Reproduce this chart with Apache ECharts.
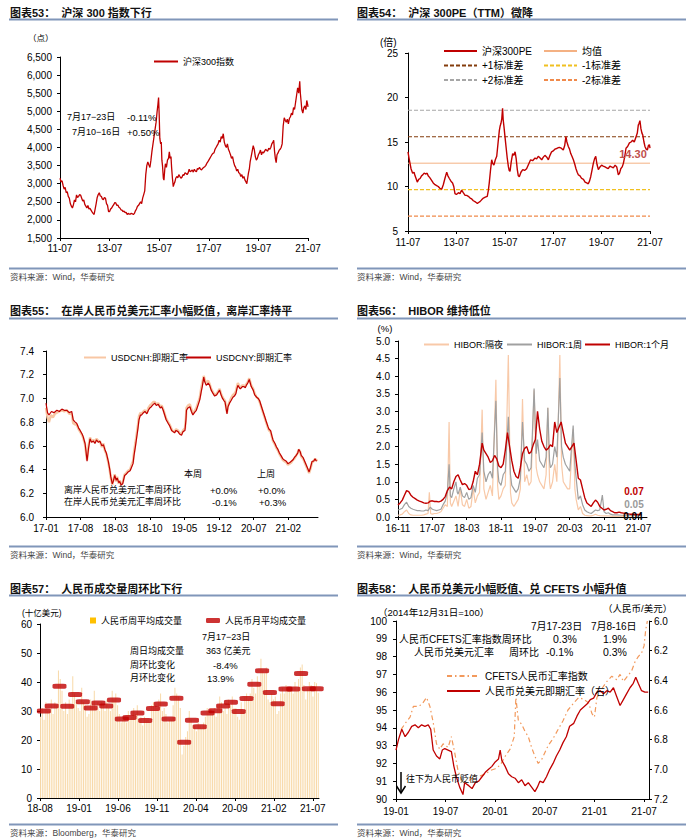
<!DOCTYPE html>
<html><head><meta charset="utf-8">
<script src="https://cdn.jsdelivr.net/npm/echarts@6/dist/echarts.min.js"></script>
<style>html,body{margin:0;padding:0;background:#fff}#c{width:692px;height:840px}</style>
</head><body><div id="c"></div>
<script>
// ---------------- DATA ----------------
// Chart 53: CSI300 index, x = months since 2011-07
const csi300 = [[0,3150],[0.5,3050],[1,3080],[1.5,2950],[2,2850],[2.5,2900],[3,2750],[3.5,2780],[4,2650],[4.5,2600],[5,2450],[5.5,2380],[6,2330],[6.5,2420],[7,2550],[7.5,2500],[8,2690],[8.5,2620],[9,2650],[9.5,2700],[10,2680],[10.5,2600],[11,2520],[11.5,2550],[12,2430],[12.5,2380],[13,2330],[13.5,2400],[14,2300],[14.5,2320],[15,2270],[15.5,2220],[16,2180],[16.5,2150],[17,2300],[17.5,2450],[18,2620],[18.5,2700],[19,2750],[19.5,2660],[20,2650],[20.5,2580],[21,2560],[21.5,2620],[22,2600],[22.5,2450],[23,2400],[23.5,2230],[24,2230],[24.5,2300],[25,2330],[25.5,2380],[26,2420],[26.5,2480],[27,2470],[27.5,2400],[28,2410],[28.5,2350],[29,2330],[29.5,2280],[30,2270],[30.5,2230],[31,2240],[31.5,2200],[32,2210],[32.5,2150],[33,2180],[33.5,2160],[34,2160],[34.5,2180],[35,2170],[35.5,2150],[36,2180],[36.5,2250],[37,2300],[37.5,2380],[38,2400],[38.5,2450],[39,2500],[39.5,2450],[40,2600],[40.5,2700],[41,2800],[41.5,3250],[42,3500],[42.5,3600],[43,3520],[43.5,3450],[44,3650],[44.5,3900],[45,4100],[45.5,4300],[46,4500],[46.5,4700],[47,5000],[47.4,5200],[47.7,5380],[48,4900],[48.3,4250],[48.7,4100],[49,4150],[49.3,3650],[49.6,3500],[50,3150],[50.3,3100],[50.7,3400],[51,3550],[51.5,3450],[52,3650],[52.5,3700],[52.9,3880],[53.3,3700],[53.7,3750],[54,3450],[54.4,3150],[54.8,2920],[55.2,3000],[55.6,3050],[56,3150],[56.5,3200],[57,3160],[57.5,3250],[58,3200],[58.5,3150],[59,3180],[59.5,3250],[60,3230],[60.5,3300],[61,3280],[61.5,3250],[62,3300],[62.5,3400],[63,3330],[63.5,3350],[64,3380],[64.5,3320],[65,3400],[65.5,3350],[66,3330],[66.5,3420],[67,3400],[67.5,3450],[68,3400],[68.5,3380],[69,3420],[69.5,3450],[70,3470],[70.5,3500],[71,3560],[71.5,3600],[72,3650],[72.5,3700],[73,3750],[73.5,3800],[74,3840],[74.5,3850],[75,3950],[75.5,4000],[76,4050],[76.5,4100],[77,4200],[77.5,4150],[78,4300],[78.5,4250],[79,4380],[79.5,4150],[80,4050],[80.5,4000],[81,4100],[81.5,3950],[82,3880],[82.5,3800],[83,3700],[83.5,3750],[84,3600],[84.5,3500],[85,3450],[85.5,3350],[86,3400],[86.5,3300],[87,3280],[87.5,3200],[88,3250],[88.5,3150],[89,3200],[89.5,3100],[90,3050],[90.4,3000],[90.8,3150],[91.2,3300],[91.6,3400],[92,3600],[92.5,3750],[93,3900],[93.5,4050],[94,3950],[94.5,3750],[95,3650],[95.5,3700],[96,3800],[96.5,3850],[97,3930],[97.5,3800],[98,3880],[98.5,3850],[99,3900],[99.5,3950],[100,3920],[100.5,3900],[101,3980],[101.5,3950],[102,4000],[102.5,4100],[103,4150],[103.4,4200],[103.8,3900],[104.2,3700],[104.6,3580],[105,3800],[105.5,3850],[106,3920],[106.5,3950],[107,4000],[107.5,4100],[108,4600],[108.5,4820],[109,4750],[109.5,4700],[110,4780],[110.5,4650],[111,4800],[111.5,4850],[112,4950],[112.5,4900],[113,5100],[113.5,5050],[114,5250],[114.5,5450],[115,5650],[115.5,5500],[116,5830],[116.3,5500],[116.7,5250],[117,5050],[117.5,4950],[118,5100],[118.5,5150],[119,5050],[119.4,5300],[119.8,5200],[120,5120]];
const csiXLabels = ['11-07','13-07','15-07','17-07','19-07','21-07'];

// Chart 54: CSI300 PE (TTM)
const pe300 = [[0,13.9],[0.5,13.2],[1,12.6],[1.5,12.0],[2.3,11.5],[3,11.6],[3.5,11.2],[4,10.9],[4.6,10.5],[5.3,10.8],[6,10.9],[6.7,11.2],[7.3,11.3],[8,11.5],[8.9,11.4],[9.5,11.5],[10,11.2],[10.8,11.0],[11.7,10.7],[12.5,10.4],[13.4,10.2],[14.2,10.1],[15,10.0],[15.8,9.8],[16.7,9.7],[17.5,10.2],[18.3,10.9],[18.8,11.3],[19.2,11.6],[19.8,11.2],[20.5,10.9],[21.3,10.6],[22.1,10.4],[22.7,10.0],[23.3,9.2],[24,9.1],[25,9.3],[25.8,9.2],[26.6,9.6],[27.4,9.3],[28.3,9.0],[29.1,9.0],[29.9,8.9],[30.8,8.7],[31.6,8.6],[32.4,8.4],[33.2,8.3],[33.8,8.2],[34.4,8.1],[35,8.2],[35.7,8.3],[36.5,8.5],[37.4,8.7],[38.3,8.8],[39.3,8.9],[39.8,9.5],[40.3,10.4],[40.9,11.8],[41.5,13.0],[42,12.6],[42.6,12.4],[43.3,13.0],[44,13.4],[44.7,15.0],[45.3,16.3],[45.7,16.8],[46.1,17.1],[46.5,17.6],[46.9,18.8],[47.2,17.5],[47.6,16.7],[48,15.8],[48.6,14.5],[49.2,13.2],[49.8,12.2],[50.2,11.8],[50.6,11.7],[51.2,12.8],[51.9,13.7],[52.5,13.5],[53.1,13.9],[53.6,13.2],[54.2,11.9],[54.7,11.2],[55.2,11.1],[56,11.6],[56.9,11.9],[57.8,11.8],[58.8,12.0],[59.8,12.5],[60.8,13.0],[61.8,12.9],[63,13.2],[63.8,13.1],[64.6,13.4],[65.5,13.2],[66.3,13.0],[67.1,13.3],[67.9,13.5],[68.8,13.3],[69.6,13.0],[70.4,13.5],[71.2,13.9],[72,14.0],[72.9,14.2],[74,14.3],[75,14.4],[76,14.3],[77,14.1],[77.7,14.6],[78.3,15.6],[78.8,15.0],[79.5,14.5],[80.1,14.2],[80.7,13.7],[81.3,13.4],[82,13.0],[82.7,12.5],[83.3,12.0],[83.9,11.6],[84.5,11.3],[85.3,11.2],[86.1,10.9],[87,10.8],[87.8,10.5],[88.6,10.4],[89.4,10.3],[90,10.6],[90.6,11.1],[91.3,11.9],[91.9,12.6],[92.5,13.1],[93.1,13.4],[93.7,12.5],[94.4,11.9],[95.2,12.2],[96,12.4],[96.8,12.3],[97.7,12.2],[98.5,12.1],[99.3,12.0],[100.1,12.3],[100.9,12.2],[101.8,12.1],[102.7,12.4],[103.5,12.2],[104.3,11.3],[104.9,11.5],[105.5,12.0],[106.2,12.2],[106.8,12.6],[107.5,13.4],[108.1,14.3],[108.9,14.5],[109.8,14.9],[110.6,15.0],[111.4,15.2],[112.2,15.0],[113.1,15.6],[113.7,16.0],[114.2,16.9],[114.6,17.1],[115,17.4],[115.5,16.5],[116,16.0],[116.4,15.8],[117,15.0],[117.5,14.5],[118.1,14.2],[118.7,14.1],[119.2,14.6],[119.7,14.7],[120,14.3]];
const peBandNames = ['均值','+1标准差','-1标准差','+2标准差','-2标准差'];
const peBandValues = [12.62, 15.59, 9.65, 18.56, 6.68];
const peLast = '14.30';

// Chart 55: USDCNH / USDCNY, x = months since 2017-01
const usdcnh = [[0,6.92],[0.3,6.84],[0.6,6.80],[1,6.86],[1.4,6.84],[1.8,6.87],[2.2,6.88],[2.7,6.89],[3.2,6.90],[3.7,6.89],[4.2,6.90],[4.7,6.87],[5.2,6.87],[5.5,6.79],[5.9,6.78],[6.2,6.78],[6.6,6.74],[6.9,6.72],[7.3,6.69],[7.5,6.67],[7.9,6.61],[8.1,6.54],[8.3,6.48],[8.6,6.60],[8.9,6.67],[9.2,6.64],[9.6,6.65],[9.9,6.63],[10.2,6.66],[10.6,6.64],[10.9,6.64],[11.3,6.59],[11.6,6.62],[11.9,6.56],[12.2,6.53],[12.6,6.46],[12.9,6.39],[13.1,6.33],[13.4,6.27],[13.6,6.31],[13.9,6.36],[14.2,6.30],[14.4,6.34],[14.7,6.28],[14.9,6.31],[15.2,6.27],[15.5,6.29],[15.9,6.36],[16.2,6.37],[16.6,6.39],[17,6.40],[17.3,6.44],[17.6,6.47],[17.8,6.55],[18.1,6.63],[18.3,6.69],[18.6,6.78],[18.8,6.85],[19.1,6.88],[19.3,6.87],[19.7,6.89],[20,6.90],[20.4,6.88],[20.7,6.92],[21,6.94],[21.3,6.95],[21.7,6.97],[22,6.97],[22.3,6.95],[22.7,6.96],[23.1,6.93],[23.4,6.94],[23.7,6.91],[24,6.87],[24.3,6.83],[24.7,6.80],[25,6.78],[25.4,6.74],[25.7,6.72],[26,6.72],[26.3,6.74],[26.7,6.73],[27,6.71],[27.4,6.70],[27.7,6.73],[28.1,6.75],[28.3,6.84],[28.4,6.92],[28.7,6.94],[29.1,6.95],[29.4,6.91],[29.7,6.87],[30,6.89],[30.4,6.92],[30.8,6.97],[31.1,7.01],[31.4,7.09],[31.6,7.13],[31.9,7.19],[32.1,7.16],[32.4,7.13],[32.8,7.15],[33.1,7.12],[33.4,7.08],[33.8,7.05],[34.1,7.03],[34.5,7.04],[34.8,7.06],[35.1,7.08],[35.4,7.04],[35.7,7.01],[36,6.99],[36.2,6.98],[36.4,6.93],[36.6,6.88],[36.8,6.94],[37.1,6.97],[37.4,7.00],[37.8,7.03],[38.1,7.04],[38.4,7.06],[38.6,7.10],[38.8,7.13],[39.1,7.10],[39.3,7.09],[39.7,7.11],[40,7.11],[40.3,7.10],[40.5,7.12],[40.8,7.14],[41.1,7.17],[41.3,7.14],[41.5,7.11],[41.9,7.08],[42.2,7.04],[42.6,7.01],[42.9,7.00],[43.2,6.97],[43.5,6.93],[43.8,6.89],[44.2,6.84],[44.5,6.80],[44.9,6.75],[45.1,6.73],[45.4,6.72],[45.7,6.67],[45.9,6.64],[46.3,6.61],[46.6,6.58],[46.9,6.56],[47.2,6.53],[47.5,6.51],[47.9,6.48],[48.2,6.47],[48.6,6.46],[48.9,6.44],[49.3,6.45],[49.6,6.46],[49.9,6.48],[50.2,6.49],[50.6,6.52],[50.9,6.54],[51.1,6.57],[51.4,6.55],[51.6,6.51],[52,6.49],[52.3,6.46],[52.6,6.43],[53,6.39],[53.2,6.37],[53.5,6.41],[53.8,6.46],[54.1,6.47],[54.4,6.49],[54.7,6.48],[54.8,6.47]];
const usdcny = [[0,6.96],[0.3,6.88],[0.6,6.86],[1.1,6.89],[1.6,6.88],[2.2,6.90],[2.7,6.89],[3.2,6.91],[3.7,6.90],[4.2,6.90],[4.7,6.88],[5.2,6.89],[5.5,6.82],[5.9,6.80],[6.2,6.79],[6.6,6.75],[6.9,6.73],[7.3,6.70],[7.5,6.68],[7.9,6.62],[8.1,6.55],[8.3,6.47],[8.6,6.58],[8.9,6.66],[9.2,6.63],[9.6,6.64],[9.9,6.62],[10.2,6.65],[10.6,6.63],[10.9,6.64],[11.3,6.60],[11.6,6.61],[11.9,6.57],[12.2,6.54],[12.6,6.47],[12.9,6.40],[13.1,6.34],[13.4,6.28],[13.6,6.30],[13.9,6.35],[14.2,6.31],[14.4,6.33],[14.7,6.29],[14.9,6.30],[15.2,6.27],[15.5,6.28],[15.9,6.35],[16.2,6.36],[16.6,6.38],[17,6.39],[17.3,6.42],[17.6,6.45],[17.8,6.52],[18.1,6.60],[18.3,6.66],[18.6,6.75],[18.8,6.82],[19.1,6.86],[19.3,6.86],[19.7,6.88],[20,6.89],[20.4,6.87],[20.7,6.90],[21,6.92],[21.3,6.93],[21.7,6.95],[22,6.96],[22.3,6.94],[22.7,6.95],[23.1,6.92],[23.4,6.93],[23.7,6.90],[24,6.86],[24.3,6.82],[24.7,6.79],[25,6.77],[25.4,6.73],[25.7,6.72],[26,6.71],[26.3,6.73],[26.7,6.72],[27,6.70],[27.4,6.69],[27.7,6.72],[28.1,6.73],[28.3,6.82],[28.4,6.90],[28.7,6.92],[29.1,6.93],[29.4,6.89],[29.7,6.86],[30,6.88],[30.4,6.90],[30.8,6.95],[31.1,6.99],[31.4,7.06],[31.6,7.10],[31.9,7.18],[32.1,7.14],[32.4,7.11],[32.8,7.13],[33.1,7.11],[33.4,7.07],[33.8,7.04],[34.1,7.02],[34.5,7.03],[34.8,7.05],[35.1,7.07],[35.4,7.03],[35.7,7.00],[36,6.98],[36.2,6.97],[36.4,6.92],[36.6,6.87],[36.8,6.93],[37.1,6.96],[37.4,6.98],[37.8,7.01],[38.1,7.02],[38.4,7.04],[38.6,7.08],[38.8,7.11],[39.1,7.09],[39.3,7.08],[39.7,7.10],[40,7.10],[40.3,7.09],[40.5,7.11],[40.8,7.13],[41.1,7.16],[41.3,7.13],[41.5,7.10],[41.9,7.07],[42.2,7.03],[42.6,7.01],[42.9,7.00],[43.2,6.98],[43.5,6.94],[43.8,6.90],[44.2,6.85],[44.5,6.81],[44.9,6.76],[45.1,6.74],[45.4,6.73],[45.7,6.68],[45.9,6.65],[46.3,6.62],[46.6,6.59],[46.9,6.57],[47.2,6.54],[47.5,6.52],[47.9,6.49],[48.2,6.48],[48.6,6.47],[48.9,6.45],[49.3,6.46],[49.6,6.47],[49.9,6.48],[50.2,6.50],[50.6,6.52],[50.9,6.54],[51.1,6.57],[51.4,6.55],[51.6,6.52],[52,6.50],[52.3,6.47],[52.6,6.44],[53,6.40],[53.2,6.38],[53.5,6.42],[53.8,6.47],[54.1,6.47],[54.4,6.49],[54.7,6.47],[54.8,6.47]];
const fxXLabels = ['17-01','17-08','18-03','18-10','19-05','19-12','20-07','21-02'];

// Chart 56: HIBOR, x = months since 2016-11
const hiborON = [[0,0.05],[0.5,0.06],[1,0.08],[1.5,0.15],[2,0.2],[2.5,0.1],[3,0.06],[3.5,0.05],[4,0.05],[4.5,0.05],[5,0.05],[5.5,0.05],[6,0.06],[6.5,0.08],[7,0.1],[7.3,0.7],[7.6,0.1],[8,0.08],[8.5,0.1],[9,0.1],[9.5,0.12],[10,0.15],[10.5,0.25],[11,0.35],[11.5,0.3],[11.9,2.7],[12.2,0.4],[12.5,0.3],[13,0.45],[13.5,0.6],[14,0.3],[14.5,0.8],[15,0.35],[15.5,0.3],[16,0.5],[16.5,0.25],[17,0.3],[17.5,0.8],[18,0.4],[18.5,0.6],[19,0.7],[19.6,3.05],[20,0.8],[20.5,0.5],[21,0.7],[21.5,0.9],[22,0.6],[22.8,3.9],[23.2,0.9],[23.5,0.5],[24,0.6],[24.5,0.8],[25,0.9],[25.7,4.6],[26.2,0.7],[26.5,0.4],[27,0.3],[27.5,0.4],[28,0.5],[28.5,0.8],[29,3.35],[29.5,1.0],[30,1.2],[30.5,0.9],[31,1.0],[31.7,3.6],[32.2,1.4],[32.5,1.2],[33,1.0],[33.5,0.9],[34,0.8],[34.5,1.2],[34.9,3.1],[35.3,1.0],[35.5,0.8],[36,1.0],[36.5,1.5],[37,1.0],[37.7,4.6],[38.1,1.5],[38.5,1.0],[39,0.9],[39.5,0.8],[40,0.8],[40.8,2.5],[41.2,0.8],[41.5,0.5],[42,0.2],[42.5,0.3],[43,0.1],[43.5,0.05],[44,0.04],[44.5,0.03],[45,0.03],[45.5,0.05],[46,0.08],[46.5,0.05],[47,0.04],[48,0.03],[49,0.03],[50,0.02],[51,0.02],[52,0.02],[53,0.03],[54,0.03],[55,0.04],[56,0.04],[56.7,0.04]];
const hibor1W = [[0,0.2],[0.5,0.22],[1,0.25],[1.5,0.35],[2,0.42],[2.5,0.3],[3,0.25],[3.5,0.22],[4,0.2],[4.5,0.18],[5,0.18],[5.5,0.17],[6,0.17],[6.5,0.2],[7,0.18],[7.5,0.28],[8,0.22],[8.5,0.2],[9,0.18],[9.5,0.2],[10,0.22],[10.5,0.35],[11,0.45],[11.5,0.7],[11.9,1.5],[12.2,0.6],[12.5,0.55],[13,0.8],[13.5,1.0],[13.8,0.7],[14,0.65],[14.5,0.85],[15,0.6],[15.5,0.55],[16,0.7],[16.5,0.5],[17,0.55],[17.5,0.9],[18,0.7],[18.5,1.1],[19,1.2],[19.6,2.4],[20,1.3],[20.5,1.0],[21,1.2],[21.5,1.3],[22,1.1],[22.8,3.3],[23.2,1.4],[23.5,1.0],[24,0.9],[24.5,1.2],[25,1.3],[25.7,2.85],[26.2,1.2],[26.5,0.9],[27,0.8],[27.5,0.7],[28,0.8],[28.5,1.1],[29,2.7],[29.5,1.6],[30,1.5],[30.5,1.3],[31,1.4],[31.7,3.65],[32.2,1.8],[32.5,2.2],[33,1.6],[33.5,1.5],[34,1.4],[34.5,1.7],[34.9,3.1],[35.3,1.6],[35.5,1.4],[36,1.5],[36.5,2.0],[37,1.7],[37.7,3.95],[38.1,2.0],[38.5,1.7],[39,1.5],[39.5,1.4],[40,1.3],[40.8,2.6],[41.2,1.5],[41.5,1.1],[42,0.5],[42.5,0.6],[43,0.35],[43.5,0.2],[44,0.15],[44.5,0.12],[45,0.1],[45.5,0.15],[46,0.2],[46.5,0.18],[47,0.2],[47.6,0.62],[48,0.15],[48.5,0.1],[49,0.12],[49.5,0.08],[50,0.06],[51,0.06],[52,0.05],[53,0.05],[54,0.05],[55,0.05],[56,0.05],[56.7,0.05]];
const hibor1M = [[0,0.34],[0.5,0.4],[1,0.48],[1.5,0.62],[2,0.75],[2.5,0.72],[3,0.62],[3.5,0.56],[4,0.52],[4.5,0.48],[5,0.45],[5.5,0.43],[6,0.4],[6.5,0.39],[7,0.4],[7.5,0.45],[8,0.46],[8.5,0.44],[9,0.44],[9.5,0.43],[10,0.45],[10.5,0.5],[11,0.58],[11.5,0.75],[12,0.85],[12.5,0.8],[13,1.0],[13.5,1.15],[14,1.2],[14.5,1.05],[15,0.92],[15.5,0.95],[16,0.9],[16.5,0.78],[17,0.8],[17.5,1.0],[18,1.3],[18.5,1.2],[19,1.5],[19.6,2.1],[20,1.9],[20.5,1.8],[21,1.7],[21.5,1.55],[22,1.6],[22.5,1.75],[23,1.65],[23.5,1.45],[24,1.4],[24.5,1.5],[25,1.9],[25.5,2.4],[26,2.0],[26.5,1.6],[27,1.3],[27.5,1.15],[28,1.1],[28.5,1.4],[29,1.8],[29.5,1.95],[30,2.0],[30.5,1.8],[31,1.85],[31.5,2.05],[32,2.2],[32.5,3.0],[33,2.5],[33.5,2.15],[34,2.0],[34.5,1.9],[35,1.95],[35.5,2.05],[36,2.0],[36.5,2.7],[37,2.4],[37.5,2.55],[38,2.7],[38.5,2.4],[39,2.1],[39.5,2.0],[40,1.9],[40.5,2.0],[41,2.1],[41.5,1.6],[42,1.1],[42.5,1.05],[43,0.8],[43.5,0.55],[44,0.4],[44.5,0.35],[45,0.3],[45.5,0.4],[46,0.48],[46.5,0.42],[47,0.3],[47.5,0.25],[48,0.2],[48.5,0.22],[49,0.25],[49.5,0.18],[50,0.15],[50.5,0.12],[51,0.12],[51.5,0.14],[52,0.12],[52.5,0.11],[53,0.1],[53.5,0.09],[54,0.08],[54.5,0.08],[55,0.07],[55.5,0.07],[56,0.07],[56.7,0.07]];
const hiborXLabels = ['16-11','17-07','18-03','18-11','19-07','20-03','20-11','21-07'];
const hiborEnd = ['0.07','0.05','0.04'];

// Chart 57: RMB turnover (USD bn). Weekly (Fridays from 2018-08-03) and monthly averages from 2018-08
const weeklyVol = [28,31,27,33,30, 30,34,29,33, 32,44,41,37, 30,33,29,34,32, 42,36,33,31,
 30,38,33,32, 28,29,34,33, 37,31,33,30,33, 32,30,34,31, 30,37,34,36,32, 29,26,27,27, 26,30,27,28, 31,29,32,27,28, 25,28,27,27, 26,32,33,32, 31,34,36,30,31, 29,26,27,27,
 32,38,36,35,31, 15,18,21,23, 30,27,25,25, 23,26,25,24, 26,28,31,30,31, 29,31,28,32, 35,33,30,31,29, 34,32,35,31, 31,28,27,33, 30,35,36,34,36, 41,38,36,42, 40,48,44,43,
 45,34,33,36,34, 35,29,30,36, 38,36,39,37, 37,38,36,40,37, 41,45,46,39, 34,38,40,39, 35,40,39.6,36.3];
const monthlyVol = [30.0,31.7,38.5,31.6,35.7, 33.2,31.0,32.8,31.7,33.8,27.2,27.8,29.3,26.7,30.9,32.4,27.2, 34.4,19.2,26.8,24.6,29.3,30.1,31.7,33.0,29.8,34.3,39.2,43.9, 36.4,32.5,37.6,37.6,42.9,37.7,37.7];
const volXLabels = ['18-08','19-01','19-06','19-11','20-04','20-09','21-02','21-07'];

// Chart 58: CFETS index (left) and USDCNY (right, inverted), x = months since 2019-01
const cfets = [[0.6,93.9],[1.2,94.3],[1.7,94.6],[2.1,95.2],[2.6,95.2],[3.1,95.3],[3.7,95.7],[4.1,95.2],[4.5,94.3],[4.9,93.1],[5.3,92.8],[5.7,93.1],[6.3,92.9],[6.7,93.5],[7.1,92.6],[7.5,91.6],[7.9,91.1],[8.3,90.9],[8.7,91.0],[9,91.1],[9.6,91.3],[10.2,91.3],[10.8,91.4],[11.4,91.6],[12,91.7],[12.6,91.9],[13.2,92.4],[13.8,92.8],[14.3,93.5],[14.5,95.7],[14.8,94.4],[15.2,94.2],[15.6,93.8],[16,93.5],[16.4,92.9],[16.8,92.4],[17.2,92.0],[17.6,92.2],[18,92.6],[18.4,93.0],[19,93.4],[19.6,93.9],[20.2,94.4],[20.8,95.0],[21.5,95.4],[22.1,95.7],[22.7,95.6],[23.3,95.4],[23.7,94.8],[24,94.6],[24.3,95.7],[24.9,96.2],[25.5,96.6],[26.1,96.9],[26.7,96.7],[27.1,97.0],[27.5,96.6],[28,96.9],[28.5,97.2],[28.9,97.7],[29.3,98.0],[29.7,98.2],[30,98.6],[30.2,99.5],[30.4,100.0]];
const usdcny58 = [[0,6.87],[0.3,6.80],[0.7,6.73],[1.1,6.78],[1.5,6.75],[1.9,6.71],[2.3,6.70],[2.7,6.72],[3.1,6.70],[3.5,6.71],[3.9,6.70],[4.2,6.73],[4.5,6.87],[4.9,6.91],[5.3,6.93],[5.6,6.87],[5.9,6.86],[6.3,6.87],[6.7,6.88],[7,6.98],[7.3,7.05],[7.7,7.12],[8.1,7.17],[8.3,7.09],[8.8,7.11],[9.2,7.13],[9.6,7.09],[10,7.08],[10.4,7.05],[10.8,7.02],[11.2,7.00],[11.6,6.98],[12,6.95],[12.4,6.93],[12.6,6.87],[12.8,6.94],[13.2,6.98],[13.6,7.03],[14,7.05],[14.4,7.06],[14.8,7.09],[15.2,7.07],[15.6,7.11],[16,7.09],[16.4,7.12],[16.8,7.15],[17.1,7.12],[17.4,7.08],[17.8,7.09],[18.2,7.05],[18.6,7.00],[19,6.96],[19.4,6.91],[19.8,6.87],[20.2,6.82],[20.6,6.78],[21,6.71],[21.5,6.69],[21.9,6.64],[22.3,6.60],[22.7,6.58],[23.1,6.56],[23.5,6.53],[23.9,6.52],[24.3,6.48],[24.7,6.47],[25.1,6.49],[25.5,6.47],[25.9,6.48],[26.3,6.45],[26.7,6.51],[27.1,6.57],[27.5,6.53],[27.9,6.49],[28.3,6.45],[28.7,6.42],[29,6.38],[29.3,6.42],[29.7,6.47],[30.1,6.48],[30.5,6.48]];
const cfetsXLabels = ['19-01','19-07','20-01','20-07','21-01','21-07'];

// ---------------- CHART ----------------
const FN = "'Liberation Sans', Arial, 'Noto Sans CJK SC', sans-serif";
const RED = '#c00000', BLUE = '#8096b9';
const chart = echarts.init(document.getElementById('c'), null, {renderer: 'svg'});

function labFmt(labels, step) {
  return v => { const i = Math.round(v / step); return (Math.abs(v - i * step) < 1e-6 && labels[i] !== undefined) ? labels[i] : ''; };
}
function ticks(labels, step) { return labels.map((_, i) => i * step); }
function xAx(g, max, labels, step, margin) {
  return {type: 'value', gridIndex: g, min: 0, max: max, interval: step,
    axisLine: {lineStyle: {color: '#000', width: 1}},
    axisTick: {show: true, length: 3, lineStyle: {color: '#000'}, customValues: ticks(labels, step)},
    axisLabel: {color: '#000', fontSize: 10, fontFamily: FN, margin: margin, formatter: labFmt(labels, step), customValues: ticks(labels, step)},
    splitLine: {show: false}};
}
function yAx(g, min, max, step, fmt, margin, extra) {
  return Object.assign({type: 'value', gridIndex: g, min: min, max: max, interval: step,
    axisLine: {show: true, lineStyle: {color: '#000', width: 1}},
    axisTick: {show: true, length: 3, lineStyle: {color: '#000'}},
    axisLabel: {color: '#000', fontSize: 10, fontFamily: FN, margin: margin, formatter: fmt},
    splitLine: {show: false}}, extra || {});
}
const comma = v => String(v).replace(/\B(?=(\d{3})+(?!\d))/g, ',');
const f1 = v => v.toFixed(1);

function T(x, y, text, o) {
  o = o || {};
  return {type: 'text', x: x, y: y, silent: true, z: 100,
    style: {text: text, fill: o.fill || '#000', font: (o.weight || 'normal') + ' ' + (o.size || 9) + 'px ' + FN,
      align: o.align || 'left', verticalAlign: 'middle', textAlign: o.align || 'left', textVerticalAlign: 'middle'}};
}
function L(x1, y1, x2, y2, c, w) {
  return {type: 'line', silent: true, shape: {x1: x1, y1: y1, x2: x2, y2: y2}, style: {stroke: c, lineWidth: w}};
}

const titles = [
  [10, 13, '图表53：  沪深 300 指数下行'], [357, 13, '图表54：  沪深 300PE（TTM）微降'],
  [10, 311, '图表55：  在岸人民币兑美元汇率小幅贬值，离岸汇率持平'], [357, 311, '图表56：  HIBOR 维持低位'],
  [10, 589, '图表57：  人民币成交量周环比下行'], [357, 589, '图表58：  人民币兑美元小幅贬值、兑 CFETS 小幅升值']
];
const g = [];
titles.forEach(t => g.push(T(t[0], t[1], t[2], {weight: 'bold', size: 11, fill: '#111'})));
[[9, 338, 19.5], [357, 686, 19.5], [9, 338, 318.5], [357, 686, 318.5], [9, 338, 595.5], [357, 686, 595.5]].forEach(l => g.push(L(l[0], l[2], l[1], l[2], BLUE, 2)));
[[9, 338, 268.5], [357, 686, 268.5], [9, 338, 546.5], [357, 686, 546.5], [9, 338, 824.5], [357, 686, 824.5]].forEach(l => g.push(L(l[0], l[2], l[1], l[2], BLUE, 2)));
[[10, 277, '资料来源：Wind，华泰研究'], [357, 277, '资料来源：Wind，华泰研究'], [10, 555, '资料来源：Wind，华泰研究'],
 [357, 555, '资料来源：Wind，华泰研究'], [10, 833, '资料来源：Bloomberg，华泰研究'], [357, 833, '资料来源：Wind，华泰研究']]
 .forEach(s => g.push(T(s[0], s[1], s[2], {size: 8.5, fill: '#444'})));
// chart 53 texts
g.push(T(28, 38, '（点）', {size: 8.5}));
g.push(T(67, 117, '7月17−23日', {size: 9})); g.push(T(127, 117, '-0.11%', {size: 9.5}));
g.push(T(72, 132, '7月10−16日', {size: 9})); g.push(T(127, 132, '+0.50%', {size: 9.5}));
// chart 54
g.push(T(380, 42, '(倍)', {size: 10}));
g.push(T(633, 154, peLast, {size: 11, weight: 'bold', fill: '#c0504d', align: 'center'}));
// chart 55
g.push(T(193, 474, '本周', {size: 9, align: 'center'})); g.push(T(266, 474, '上周', {size: 9, align: 'center'}));
g.push(T(64, 490, '离岸人民币兑美元汇率周环比', {size: 9})); g.push(T(210, 490, '+0.0%', {size: 9.5})); g.push(T(258, 490, '+0.0%', {size: 9.5}));
g.push(T(64, 502, '在岸人民币兑美元汇率周环比', {size: 9})); g.push(T(212, 502, '-0.1%', {size: 9.5})); g.push(T(259, 502, '+0.3%', {size: 9.5}));
// chart 56
g.push(T(385, 328, '(%)', {size: 9.5, align: 'center'}));
g.push(T(634, 491, hiborEnd[0], {size: 10, weight: 'bold', fill: RED, align: 'center'}));
g.push(T(634, 504, hiborEnd[1], {size: 10, weight: 'bold', fill: '#9a9a9a', align: 'center'}));
g.push(T(633, 516, hiborEnd[2], {size: 10, weight: 'bold', fill: '#000', align: 'center'}));
// chart 57
g.push(T(22, 613, '(十亿美元)', {size: 8.5}));
g.push(T(202, 637, '7月17−23日', {size: 9}));
g.push(T(130, 651, '周日均成交量', {size: 9})); g.push(T(206, 651, '363 亿美元', {size: 9}));
g.push(T(130, 665, '周环比变化', {size: 9})); g.push(T(213, 665, '-8.4%', {size: 9.5}));
g.push(T(130, 678, '月环比变化', {size: 9})); g.push(T(207, 678, '13.9%', {size: 9.5}));
// chart 58
g.push(T(378, 612, '（2014年12月31日=100）', {size: 9.5}));
g.push(T(603, 608, '（人民币/美元）', {size: 9.5}));
g.push(T(531, 626, '7月17-23日', {size: 10})); g.push(T(591, 626, '7月8-16日', {size: 10}));
g.push(T(399, 639, '人民币CFETS汇率指数周环比', {size: 10})); g.push(T(553, 639, '0.3%', {size: 10.5})); g.push(T(603, 639, '1.9%', {size: 10.5}));
g.push(T(414, 652, '人民币兑美元汇率', {size: 10})); g.push(T(509, 652, '周环比', {size: 10})); g.push(T(546, 652, '-0.1%', {size: 10.5})); g.push(T(603, 652, '0.3%', {size: 10.5}));
g.push(L(401, 772, 401, 792, '#000', 1.5));
g.push({type: 'polyline', silent: true, shape: {points: [[396.5, 786], [401, 793], [405.5, 786]]}, style: {stroke: '#000', lineWidth: 1.5, fill: 'none'}});
g.push(T(406, 779, '往下为人民币贬值', {size: 9}));

const lt = {color: '#000', fontSize: 9, fontFamily: FN};
const lineS = (name, xi, data, color, w, extra) => Object.assign({name: name, type: 'line', xAxisIndex: xi, yAxisIndex: xi, data: data,
  showSymbol: false, symbol: 'none', lineStyle: {color: color, width: w}, itemStyle: {color: color}, animation: false, silent: true}, extra || {});

const series = [];
series.push(lineS('沪深300指数', 0, csi300, RED, 1.3));
const bandStyle = [['#f4b183', 'solid', 1], ['#843c0c', 'dashed', 1.2], ['#f0c020', 'dashed', 1.2], ['#a6a6a6', 'dashed', 1.1], ['#f08a4b', 'dashed', 1.2]];
peBandNames.forEach((n, i) => series.push(lineS(n, 1, [[0, peBandValues[i]], [120, peBandValues[i]]], bandStyle[i][0], bandStyle[i][2],
  {lineStyle: {color: bandStyle[i][0], width: bandStyle[i][2], type: bandStyle[i][1] === 'dashed' ? [4, 2] : 'solid'}})));
series.push(lineS('沪深300PE', 1, pe300, RED, 1.4));
series.push(lineS('USDCNH:即期汇率', 2, usdcnh, '#f8c7a4', 2.4));
series.push(lineS('USDCNY:即期汇率', 2, usdcny, RED, 1.2));
series.push(lineS('HIBOR:隔夜', 3, hiborON, '#f8c9a8', 1.2));
series.push(lineS('HIBOR:1周', 3, hibor1W, '#a0a0a0', 1.2));
series.push(lineS('HIBOR:1个月', 3, hibor1M, RED, 1.4));
series.push({name: '人民币周平均成交量', type: 'bar', xAxisIndex: 4, yAxisIndex: 4, barWidth: 1, animation: false, silent: true,
  itemStyle: {color: '#f8d9a8'}, data: weeklyVol.map((v, j) => [(2 + 7 * j) / 30.44, v])});
series.push({name: '人民币月平均成交量', type: 'scatter', xAxisIndex: 4, yAxisIndex: 4, symbol: 'roundRect', symbolSize: [14, 5], animation: false, silent: true,
  itemStyle: {color: RED}, data: monthlyVol.map((v, k) => [k + 0.5, v]), z: 5});
series.push(lineS('CFETS人民币汇率指数', 4, cfets, '#f2995c', 1.2, {xAxisIndex: 5, yAxisIndex: 5, lineStyle: {color: '#f2995c', width: 1.2, type: [5, 3, 1.5, 3]}}));
series.push(lineS('人民币兑美元即期汇率（右）', 4, usdcny58, RED, 1.3, {xAxisIndex: 5, yAxisIndex: 6}));

const noSym = {opacity: 0};
const option = {
  backgroundColor: '#fff',
  animation: false,
  grid: [
    {left: 60, top: 57, width: 248, height: 181},
    {left: 408, top: 53, width: 242, height: 178},
    {left: 46, top: 351, width: 272, height: 166},
    {left: 398, top: 341, width: 249, height: 176},
    {left: 40, top: 624, width: 279, height: 174},
    {left: 396, top: 621, width: 253, height: 178}
  ],
  xAxis: [
    xAx(0, 120, csiXLabels, 24, 5),
    xAx(1, 120, csiXLabels, 24, 6),
    xAx(2, 55, fxXLabels, 7, 6),
    xAx(3, 58, hiborXLabels, 8, 6),
    xAx(4, 35.8, volXLabels, 5, 5),
    xAx(5, 30.6, cfetsXLabels, 6, 7)
  ],
  yAxis: [
    yAx(0, 1500, 6500, 500, comma, 8),
    yAx(1, 5, 25, 5, null, 10),
    yAx(2, 6.0, 7.4, 0.2, f1, 12),
    yAx(3, 0, 5, 0.5, f1, 8),
    yAx(4, 0, 60, 10, null, 8),
    yAx(5, 90, 100, 1, null, 9),
    yAx(5, 6.0, 7.2, 0.2, f1, 5, {position: 'right', inverse: true})
  ],
  legend: [
    {left: 148, top: 52, itemWidth: 24, itemHeight: 10, itemStyle: noSym, textStyle: lt, data: ['沪深300指数']},
    {left: 438, top: 41, orient: 'vertical', itemGap: 4.5, itemWidth: 33, itemHeight: 10, itemStyle: noSym, textStyle: Object.assign({}, lt, {fontSize: 10}), data: ['沪深300PE', '+1标准差', '+2标准差']},
    {left: 538, top: 41, orient: 'vertical', itemGap: 4.5, itemWidth: 33, itemHeight: 10, itemStyle: noSym, textStyle: Object.assign({}, lt, {fontSize: 10}), data: ['均值', '-1标准差', '-2标准差']},
    {left: 78, top: 348, itemWidth: 22, itemHeight: 10, itemStyle: noSym, textStyle: lt, data: ['USDCNH:即期汇率']},
    {left: 180, top: 348, itemWidth: 25, itemHeight: 10, itemStyle: noSym, textStyle: lt, data: ['USDCNY:即期汇率']},
    {left: 418, top: 335, itemWidth: 25, itemHeight: 10, itemStyle: noSym, textStyle: lt, data: ['HIBOR:隔夜']},
    {left: 501, top: 335, itemWidth: 25, itemHeight: 10, itemStyle: noSym, textStyle: lt, data: ['HIBOR:1周']},
    {left: 579, top: 335, itemWidth: 25, itemHeight: 10, itemStyle: noSym, textStyle: lt, data: ['HIBOR:1个月']},
    {left: 85, top: 611, itemWidth: 6, itemHeight: 6, textStyle: lt, data: [{name: '人民币周平均成交量', icon: 'rect', itemStyle: {color: '#ffc000'}}]},
    {left: 201, top: 611, itemWidth: 14, itemHeight: 5, textStyle: lt, data: [{name: '人民币月平均成交量', icon: 'roundRect'}]},
    {left: 441, top: 666, orient: 'vertical', itemGap: 5, itemWidth: 33, itemHeight: 10, itemStyle: noSym, textStyle: Object.assign({}, lt, {fontSize: 10}), data: ['CFETS人民币汇率指数', '人民币兑美元即期汇率（右）']}
  ],
  graphic: {elements: g},
  series: series
};
chart.setOption(option);
</script></body></html>
